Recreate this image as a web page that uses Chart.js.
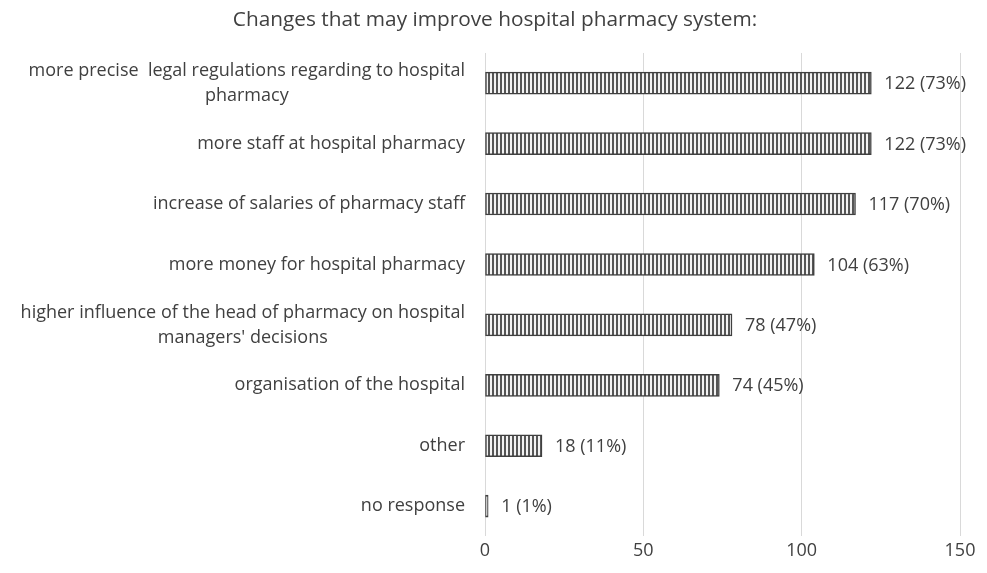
<!DOCTYPE html>
<html>
<head>
<meta charset="utf-8">
<script src="https://cdn.jsdelivr.net/npm/chart.js@4.4.0/dist/chart.umd.min.js"></script>
<style>
  html, body { margin: 0; padding: 0; background: #fff; }
  #wrap { width: 987px; height: 573px; }
</style>
</head>
<body>
<div id="wrap"><canvas id="chart"></canvas></div>
<script>
const categories = [
    ['more precise  legal regulations regarding to hospital', 'pharmacy'],
    ['more staff at hospital pharmacy'],
    ['increase of salaries of pharmacy staff'],
    ['more money for hospital pharmacy'],
    ['higher influence of the head of pharmacy on hospital', "managers' decisions"],
    ['organisation of the hospital'],
    ['other'],
    ['no response']
];
const counts = [122, 122, 117, 104, 78, 74, 18, 1];
const percents = [73, 73, 70, 63, 47, 45, 11, 1];
const xTicks = [0, 50, 100, 150];

const FONT = '"Open Sans", sans-serif';
const TEXT = '#404040';

// vertical stripe fill like the original
function stripes() {
    const c = document.createElement('canvas');
    c.width = 4; c.height = 4;
    const g = c.getContext('2d');
    g.fillStyle = '#f2f2f2';
    g.fillRect(0, 0, 4, 4);
    g.fillStyle = '#555555';
    g.fillRect(0, 0, 2, 4);
    return g.createPattern(c, 'repeat');
}

// category labels: right edge fixed, multi-line blocks centred
const catLabels = {
    id: 'catLabels',
    afterDraw(chart) {
        const ctx = chart.ctx;
        const y = chart.scales.y;
        const right = chart.chartArea.left - 20;
        ctx.save();
        ctx.font = '18px ' + FONT;
        ctx.fillStyle = TEXT;
        ctx.textBaseline = 'middle';
        ctx.textAlign = 'center';
        const lh = 25;
        categories.forEach((lines, i) => {
            const w = Math.max(...lines.map(l => ctx.measureText(l).width));
            const cx = right - w / 2;
            const cy = y.getPixelForValue(i);
            lines.forEach((l, j) => {
                ctx.fillText(l, cx, cy + (j - (lines.length - 1) / 2) * lh);
            });
        });
        ctx.restore();
    }
};

// value labels at bar ends
const valueLabels = {
    id: 'valueLabels',
    afterDatasetsDraw(chart) {
        const ctx = chart.ctx;
        const meta = chart.getDatasetMeta(0);
        ctx.save();
        ctx.font = '18px ' + FONT;
        ctx.fillStyle = TEXT;
        ctx.textBaseline = 'middle';
        ctx.textAlign = 'left';
        meta.data.forEach((bar, i) => {
            ctx.fillText(counts[i] + ' (' + percents[i] + '%)', bar.x + 13, bar.y + 1);
        });
        ctx.restore();
    }
};

new Chart(document.getElementById('chart'), {
    type: 'bar',
    data: {
        labels: categories.map(c => c.join(' ')),
        datasets: [{
            data: counts,
            backgroundColor: stripes(),
            borderColor: '#404040',
            borderWidth: 1.5,
            borderSkipped: false,
            barThickness: 22
        }]
    },
    options: {
        indexAxis: 'y',
        responsive: true,
        maintainAspectRatio: false,
        animation: false,
        layout: { padding: { top: 0, right: 27, bottom: 7, left: 30 } },
        plugins: {
            legend: { display: false },
            tooltip: { enabled: false },
            title: {
                display: true,
                text: 'Changes that may improve hospital pharmacy system:',
                color: TEXT,
                font: { family: FONT, size: 20.8, weight: 'normal' },
                padding: { top: 8, bottom: 20 }
            }
        },
        scales: {
            x: {
                min: 0,
                max: 150,
                afterBuildTicks: s => { s.ticks = xTicks.map(v => ({ value: v })); },
                grid: { color: '#d9d9d9', lineWidth: 1, drawTicks: false },
                border: { display: false },
                ticks: { color: TEXT, font: { family: FONT, size: 18 }, padding: 4 }
            },
            y: {
                grid: { display: false },
                border: { display: false },
                ticks: { display: false },
                afterFit: s => { s.width = 455; }
            }
        }
    },
    plugins: [catLabels, valueLabels]
});
</script>
</body>
</html>
